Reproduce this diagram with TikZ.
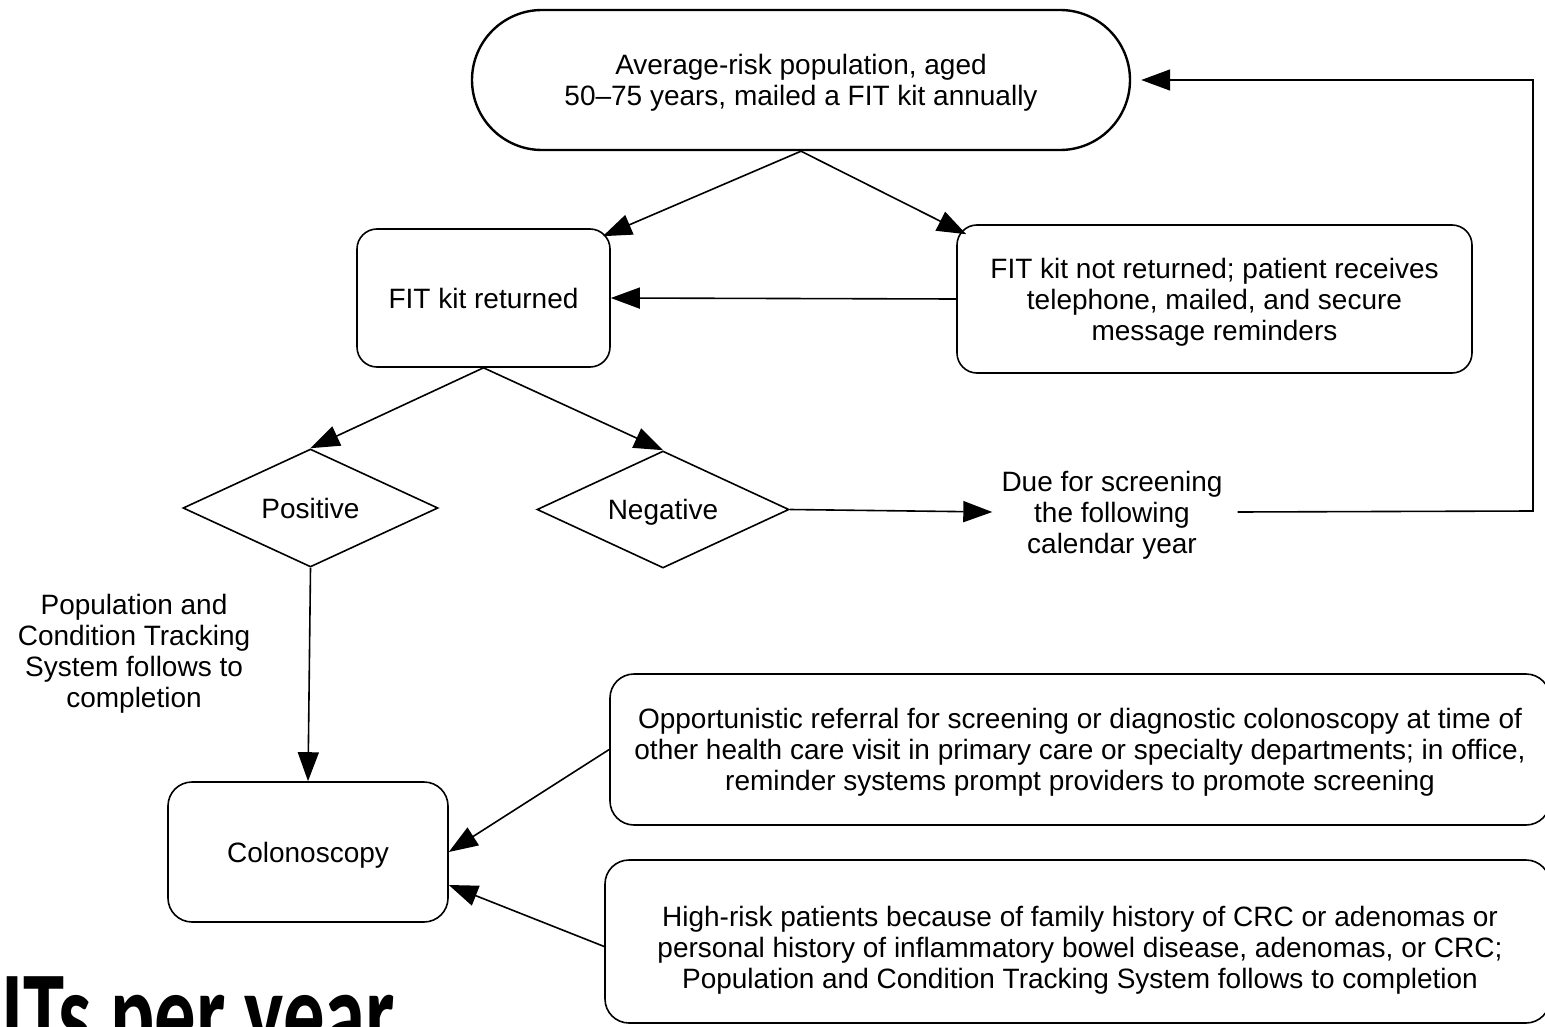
\documentclass[tikz,border=0pt]{standalone}
\usepackage{fontspec}
\setmainfont{Liberation Sans}
\newfontfamily\bigfont[FakeStretch=0.69]{Carlito}
\usetikzlibrary{arrows.meta,shapes.geometric}
\begin{document}
\begin{tikzpicture}[x=1pt,y=-1pt,
  every node/.style={font=\fontsize{28}{31}\selectfont, inner sep=0pt, align=center, text depth=0pt},
  box/.style={draw, line width=1.6pt, rounded corners=20pt},
  dia/.style={draw, diamond, shape aspect=3, line width=1.6pt},
  arr/.style={line width=1.6pt, -{Triangle[length=29pt,width=21pt]}},
  ln/.style={line width=1.6pt}]
\useasboundingbox (0,0) rectangle (1545,1027);
\clip (0,0) rectangle (1545,1027);
\fill[white] (0,0) rectangle (1545,1027);

\node[draw, line width=2.4pt, rounded corners=70pt, minimum width=658pt, minimum height=140pt] (top) at (801,80)
  {Average-risk population, aged\\50--75 years, mailed a FIT kit annually};
\node[box, minimum width=253pt, minimum height=138pt] (fit) at (483.5,298) {FIT kit returned};
\node[box, minimum width=515pt, minimum height=148pt] (nr) at (1214.5,299)
  {FIT kit not returned; patient receives\\telephone, mailed, and secure\\message reminders};
\node[dia, minimum width=255pt, minimum height=118pt] (pos) at (310.5,508) {Positive};
\node[dia, minimum width=252pt, minimum height=117pt] (neg) at (663,509.5) {Negative};
\node (due) at (1112,512) {Due for screening\\the following\\calendar year};
\node (lab) at (134,651) {Population and\\Condition Tracking\\System follows to\\completion};
\node[box, rounded corners=24pt, minimum width=280pt, minimum height=140pt] (colo) at (308,852) {Colonoscopy};
\node[box, rounded corners=24pt, minimum width=940pt, minimum height=151pt] (opp) at (1080,749.5)
  {Opportunistic referral for screening or diagnostic colonoscopy at time of\\other health care visit in primary care or specialty departments; in office,\\reminder systems prompt providers to promote screening};
\node[box, rounded corners=24pt, minimum width=945pt, minimum height=163pt] (hr) at (1077.5,941.5) {};
\node (hrt) at (1080,947)
  {High-risk patients because of family history of CRC or adenomas or\\personal history of inflammatory bowel disease, adenomas, or CRC;\\Population and Condition Tracking System follows to completion};
\node[anchor=base west, font=\bigfont\bfseries\fontsize{120}{122}\selectfont] (its) at (1,1054) {ITs per year};

\coordinate (loop) at (1533,511);

\draw[arr] (top.south) -- ([xshift=-8pt,yshift=-8pt]fit.north east);
\draw[arr] (top.south) -- ([xshift=10pt,yshift=-10pt]nr.north west);
\draw[arr] (nr.west) -- (fit.east);
\draw[arr] (fit.south) -- (pos.north);
\draw[arr] (fit.south) -- (neg.north);
\draw[arr] (neg.east) -- ([xshift=-9pt]due.west);
\draw[ln, arr] ([xshift=15pt]due.east) -- (loop) |- ([xshift=10pt]top.east);
\draw[arr] (pos.south) -- (colo.north);
\draw[arr] (opp.west) -- (colo.east);
\draw[arr] ([yshift=-5pt]hr.west) -- ([yshift=-33pt]colo.east);
\end{tikzpicture}
\end{document}
